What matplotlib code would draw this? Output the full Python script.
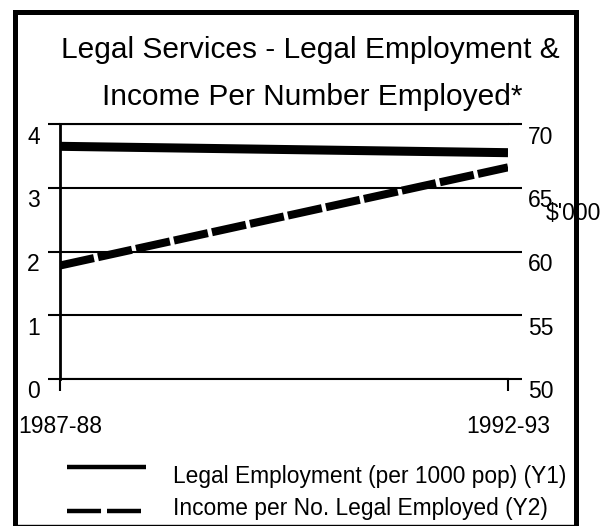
import matplotlib
matplotlib.use("Agg")
import matplotlib.pyplot as plt
from matplotlib.lines import Line2D
from matplotlib.transforms import ScaledTranslation

plt.rcParams['font.family'] = ['Liberation Sans', 'DejaVu Sans']
plt.rcParams['lines.scale_dashes'] = False

# Data
periods = ["1987-88", "1992-93"]
employment_per_1000 = [3.65, 3.55]      # Y1: legal employment per 1000 population
income_per_employed = [58.9, 66.6]      # Y2: income per number legally employed ($'000)
left_ticks = [0, 1, 2, 3, 4]
right_ticks = [50, 55, 60, 65, 70]

W, H = 613, 526
fig = plt.figure(figsize=(W / 100, H / 100), dpi=100)


def fx(x):
    return x / W


def fy(y):
    return 1 - y / H


ax = fig.add_axes([fx(60), fy(379), fx(508) - fx(60), fy(124) - fy(379)])
ax2 = ax.twinx()

x = list(range(len(periods)))
ax.plot(x, employment_per_1000, color='black', lw=6.5,
        solid_capstyle='butt', zorder=3)
ax2.plot(x, income_per_employed, color='black', lw=5.8,
         dashes=(25, 3), dash_capstyle='butt', zorder=3)

ax.set_xlim(0, len(periods) - 1)
ax.set_ylim(0, 4)
ax2.set_ylim(50, 70)
ax.set_xticks(x, periods)
ax.set_yticks(left_ticks)
ax2.set_yticks(right_ticks)

ax.yaxis.grid(True, color='black', lw=1.5)
ax.set_axisbelow(True)
ax.spines['right'].set_visible(False)
ax.spines['left'].set_linewidth(2)
ax.spines['top'].set_linewidth(1.5)
ax.spines['bottom'].set_linewidth(1.5)
for s in ax2.spines.values():
    s.set_visible(False)

tick_fs = 16.5
ax.tick_params(axis='x', direction='out', length=8.6, width=1.5, pad=17,
               labelsize=tick_fs)
ax.tick_params(axis='y', direction='out', length=8.6, width=1.5, pad=6,
               labelsize=tick_fs)
ax2.tick_params(axis='y', direction='out', length=10, width=1.5, pad=4.5,
                labelsize=tick_fs)

# Value labels sit a little below their gridlines
shift = ScaledTranslation(0, -0.105, fig.dpi_scale_trans)
for lab in ax.get_yticklabels() + ax2.get_yticklabels():
    lab.set_transform(lab.get_transform() + shift)

# Title
fig.text(fx(310), fy(57.7), "Legal Services - Legal Employment &",
         ha='center', va='baseline', fontsize=21.5)
fig.text(fx(312.5), fy(105), "Income Per Number Employed*",
         ha='center', va='baseline', fontsize=21.5)

# Right axis unit
fig.text(fx(546), fy(213), r"\$'000", ha='left', va='center', fontsize=tick_fs)

# Legend
fig.add_artist(Line2D([fx(67), fx(146)], [fy(467), fy(467)], lw=3.2,
                      color='black', solid_capstyle='butt'))
fig.add_artist(Line2D([fx(67), fx(141)], [fy(510.5), fy(510.5)], lw=3.2,
                      color='black', dashes=(24.5, 4.3), dash_capstyle='butt'))
fig.text(fx(172.7), fy(483), "Legal Employment (per 1000 pop) (Y1)",
         ha='left', va='baseline', fontsize=16.4)
fig.text(fx(172.7), fy(515), "Income per No. Legal Employed (Y2)",
         ha='left', va='baseline', fontsize=16.4)

# Outer frame
fig.add_artist(Line2D([fx(14.5), fx(14.5), fx(575.5), fx(575.5)],
                      [fy(530), fy(12), fy(12), fy(530)],
                      lw=3.6, color='black', solid_joinstyle='miter', zorder=10))
fig.add_artist(Line2D([fx(14.5), fx(575.5)], [fy(524.5), fy(524.5)],
                      lw=1, color='black', zorder=10))

fig.savefig("out.png", dpi=100)
